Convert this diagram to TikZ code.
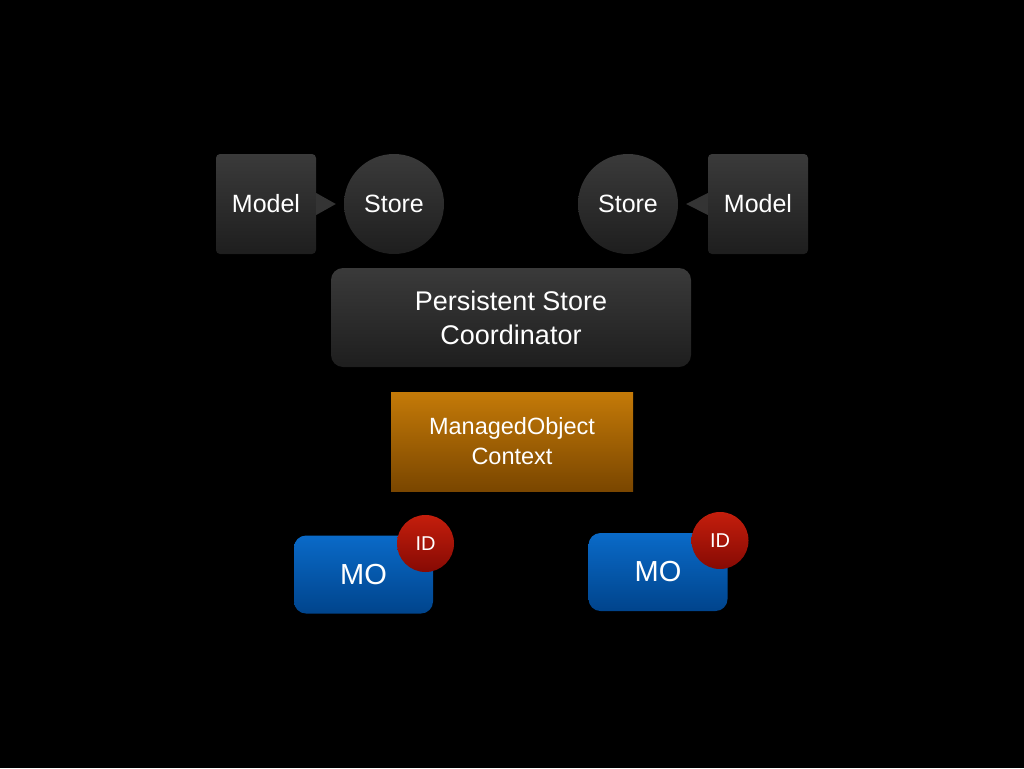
\documentclass[tikz,border=0pt]{standalone}
\usepackage{fontspec}
\setmainfont{Liberation Sans}
\definecolor{greytop}{HTML}{3A3A3A}
\definecolor{greybot}{HTML}{1E1E1E}
\definecolor{ortop}{HTML}{C47A08}
\definecolor{orbot}{HTML}{7A4600}
\definecolor{bltop}{HTML}{0A6AC8}
\definecolor{blbot}{HTML}{00448C}
\definecolor{idtop}{HTML}{C41E0C}
\definecolor{idbot}{HTML}{860A04}
\begin{document}
\begin{tikzpicture}[x=1pt,y=-1pt,line join=round,
	greyfill/.style={top color=greytop,bottom color=greybot,text=white},
	modelbox/.style={greyfill,rounded corners=4pt,minimum width=100pt,minimum height=100pt,inner sep=0pt,font=\fontsize{25}{30}\selectfont},
	storedisc/.style={greyfill,circle,minimum size=100pt,inner sep=0pt,font=\fontsize{25}{30}\selectfont},
	mobox/.style={top color=bltop,bottom color=blbot,text=white,rounded corners=12pt,minimum width=139pt,minimum height=78pt,inner sep=0pt,font=\fontsize{29}{34}\selectfont},
	iddisc/.style={top color=idtop,bottom color=idbot,text=white,circle,minimum size=57pt,inner sep=0pt,font=\fontsize{20}{24}\selectfont}]
	\fill[black] (0,0) rectangle (1024,768);
	\useasboundingbox (0,0) rectangle (1024,768);
	% stores and models
	\node[modelbox] (mL) at (266,204) {Model};
	\node[storedisc] (sL) at (394,204) {Store};
	\node[storedisc] (sR) at (628,204) {Store};
	\node[modelbox] (mR) at (758,204) {Model};
	\fill[greytop!80!greybot] ([yshift=-11pt]mL.east) -- ([xshift=-8pt]sL.west) -- ([yshift=11pt]mL.east) -- cycle;
	\fill[greytop!80!greybot] ([yshift=-11pt]mR.west) -- ([xshift=8pt]sR.east) -- ([yshift=11pt]mR.west) -- cycle;
	% coordinator and context
	\node[greyfill,rounded corners=12pt,minimum width=360pt,minimum height=99pt,inner sep=0pt,align=center,font=\fontsize{27}{34}\selectfont] (psc) at (511,317.5) {Persistent Store\\Coordinator};
	\node[top color=ortop,bottom color=orbot,text=white,minimum width=242pt,minimum height=99pt,inner sep=0pt,align=center,font=\fontsize{23.5}{30}\selectfont] (moc) at (512,441.5) {ManagedObject\\Context};
	% managed objects
	\node[mobox] (moL) at (363.5,574.5) {MO};
	\node[iddisc] (idL) at (425.5,543.5) {ID};
	\node[mobox] (moR) at (658,572) {MO};
	\node[iddisc] (idR) at (720,540.5) {ID};
\end{tikzpicture}
\end{document}
